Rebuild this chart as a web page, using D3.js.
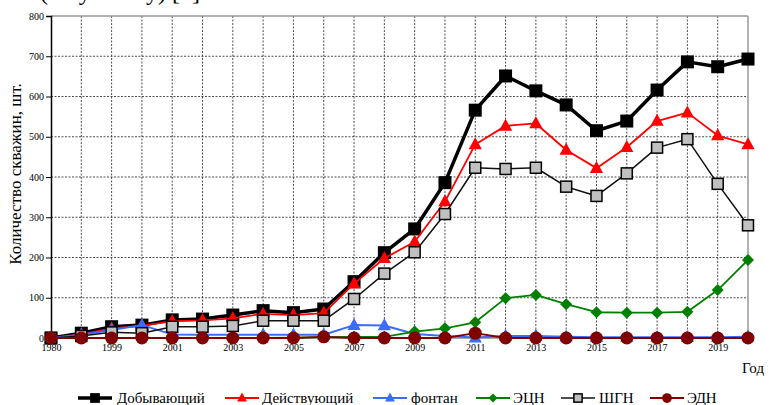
<!DOCTYPE html>
<html>
<head>
<meta charset="utf-8">
<script src="https://cdn.jsdelivr.net/npm/d3@7"></script>
<style>
html,body{margin:0;padding:0;background:#fff;}
svg{display:block;}
svg text{font-family:"Liberation Serif","Times New Roman",serif;}
</style>
</head>
<body>
<svg id="chart" width="773" height="405"></svg>
<script>
const years = ["1980","1998","1999","2000","2001","2002","2003","2004","2005","2006","2007","2008","2009","2010","2011","2012","2013","2014","2015","2016","2017","2018","2019","2020"];
const xTickLabels = ["1980","1999","2001","2003","2005","2007","2009","2011","2013","2015","2017","2019"];
const yTicks = [0,100,200,300,400,500,600,700,800];

const dobyv   = [0,12,28,32,45,47,57,68,63,72,140,212,271,386,566,651,614,579,515,539,616,686,674,693];
const deistv  = [0,9,24,30,42,44,49,60,57,62,135,198,239,339,481,527,533,467,422,474,539,560,503,481];
const fontan  = [0,8,20,32,9,8,8,8,8,8,32,31,10,5,1,5,5,3,2,2,2,2,2,3];
const ecn     = [0,0,0,0,0,0,0,0,1,2,3,3,16,24,39,99,107,84,64,63,63,65,119,194];
const shgn    = [0,5,14,12,28,28,30,43,43,43,97,160,213,308,423,420,423,376,353,409,473,494,383,280];
const edn     = [0,0,0,0,0,0,0,0,0,3,0,0,0,0,12,0,0,0,0,0,0,0,0,0];

const seriesNames = ["Добывающий","Действующий","фонтан","ЭЦН","ШГН","ЭДН"];

const FONT = "'Liberation Serif','Times New Roman',serif";
const svg = d3.select("#chart");
const x = d3.scalePoint().domain(years).range([51, 748]);
const y = d3.scaleLinear().domain([0, 800]).range([338, 16]);

// partially visible caption at top
svg.append("text").attr("x", 40).attr("y", 0).attr("font-size", 24).attr("font-family", FONT).attr("fill", "#000")
  .text("(по участку) [1]");

// grid
const g = svg.append("g");
g.selectAll(".hg").data(yTicks.filter(v => v > 0 && v < 800)).enter().append("line")
  .attr("x1", 51).attr("x2", 748).attr("y1", d => y(d)).attr("y2", d => y(d))
  .attr("stroke", "#222").attr("stroke-width", 0.8).attr("stroke-dasharray", "2,1.5");
g.selectAll(".vg").data(years.slice(1, -1)).enter().append("line")
  .attr("x1", d => x(d)).attr("x2", d => x(d)).attr("y1", 16).attr("y2", 338)
  .attr("stroke", "#222").attr("stroke-width", 0.8).attr("stroke-dasharray", "2,1.5");
// borders
g.append("line").attr("x1", 51).attr("x2", 748).attr("y1", 16).attr("y2", 16).attr("stroke", "#999").attr("stroke-width", 1.5);
g.append("line").attr("x1", 748).attr("x2", 748).attr("y1", 16).attr("y2", 338).attr("stroke", "#999").attr("stroke-width", 1.5);
g.append("line").attr("x1", 51).attr("x2", 748).attr("y1", 338).attr("y2", 338).attr("stroke", "#555").attr("stroke-width", 1);

// y axis
const yAxis = d3.axisLeft(y).tickValues(yTicks).tickSize(5).tickPadding(2).tickFormat(d3.format("d"));
const ya = svg.append("g").attr("transform", "translate(51,0)").call(yAxis).attr("font-family", FONT);
ya.select(".domain").attr("stroke", "#000").attr("stroke-width", 1.5);
ya.selectAll(".tick line").attr("stroke", "#000");
ya.selectAll(".tick text").attr("font-size", 10).attr("font-family", FONT).attr("fill", "#000");

// x axis labels
const xAxis = d3.axisBottom(x).tickValues(xTickLabels).tickSize(0).tickPadding(6);
const xa = svg.append("g").attr("transform", "translate(0,338)").call(xAxis).attr("font-family", FONT);
xa.select(".domain").remove();
xa.selectAll(".tick text").attr("font-size", 10).attr("font-family", FONT).attr("fill", "#000");

// axis titles
svg.append("text").attr("transform", "translate(21,174) rotate(-90)").attr("text-anchor", "middle")
  .attr("font-size", 17).attr("font-family", FONT).text("Количество скважин, шт.");
svg.append("text").attr("x", 742).attr("y", 373).attr("font-size", 15).attr("font-family", FONT).text("Год");

// markers
function marker(sel, type, size, fill, stroke, sw) {
  if (type === "square") {
    sel.append("rect").attr("x", -size/2).attr("y", -size/2).attr("width", size).attr("height", size)
      .attr("fill", fill).attr("stroke", stroke).attr("stroke-width", sw);
  } else if (type === "triangle") {
    const s = size;
    sel.append("path").attr("d", `M0,${-s*0.6}L${s*0.55},${s*0.4}L${-s*0.55},${s*0.4}Z`).attr("fill", fill);
  } else if (type === "diamond") {
    const s = size/2;
    sel.append("path").attr("d", `M0,${-s}L${s},0L0,${s}L${-s},0Z`).attr("fill", fill);
  } else if (type === "circle") {
    sel.append("circle").attr("r", size/2).attr("fill", fill);
  }
}

const series = [
  {name: seriesNames[0], data: dobyv,  color: "#000",    lw: 3.5, type: "square",   size: 13, fill: "#000",    stroke: "#000", sw: 0},
  {name: seriesNames[1], data: deistv, color: "#ff0000", lw: 1.8, type: "triangle", size: 12, fill: "#ff0000", stroke: "none", sw: 0},
  {name: seriesNames[2], data: fontan, color: "#3b6cff", lw: 2,   type: "triangle", size: 12, fill: "#3b6cff", stroke: "none", sw: 0},
  {name: seriesNames[3], data: ecn,    color: "#008000", lw: 1.8, type: "diamond",  size: 12, fill: "#008000", stroke: "none", sw: 0},
  {name: seriesNames[4], data: shgn,   color: "#111",    lw: 1.5, type: "square",   size: 11, fill: "#c0c0c0", stroke: "#000", sw: 1.5},
  {name: seriesNames[5], data: edn,    color: "#800000", lw: 1.8, type: "circle",   size: 13, fill: "#800000", stroke: "none", sw: 0}
];

const line = d3.line().x((d, i) => x(years[i])).y(d => y(d));
series.forEach(s => {
  const sg = svg.append("g");
  sg.append("path").datum(s.data).attr("d", line).attr("fill", "none")
    .attr("stroke", s.color).attr("stroke-width", s.lw).attr("stroke-linejoin", "round");
  s.data.forEach((v, i) => {
    const m = sg.append("g").attr("transform", `translate(${x(years[i])},${y(v)})`);
    marker(m, s.type, s.size, s.fill, s.stroke, s.sw);
  });
});

// legend
const legendPos = [[78, 117], [225, 262], [373, 411], [476, 513], [561, 599], [650, 687]];
const ly = 398;
series.forEach((s, i) => {
  const [x0, tx] = legendPos[i];
  const lg = svg.append("g");
  lg.append("line").attr("x1", x0).attr("x2", x0 + 34).attr("y1", ly).attr("y2", ly)
    .attr("stroke", s.color).attr("stroke-width", s.lw);
  const m = lg.append("g").attr("transform", `translate(${x0 + 17},${ly})`);
  marker(m, s.type, s.size * 0.75, s.fill, s.stroke, s.sw);
  lg.append("text").attr("x", tx).attr("y", ly + 5).attr("font-size", 15).attr("font-family", FONT).text(s.name);
});
</script>
</body>
</html>
